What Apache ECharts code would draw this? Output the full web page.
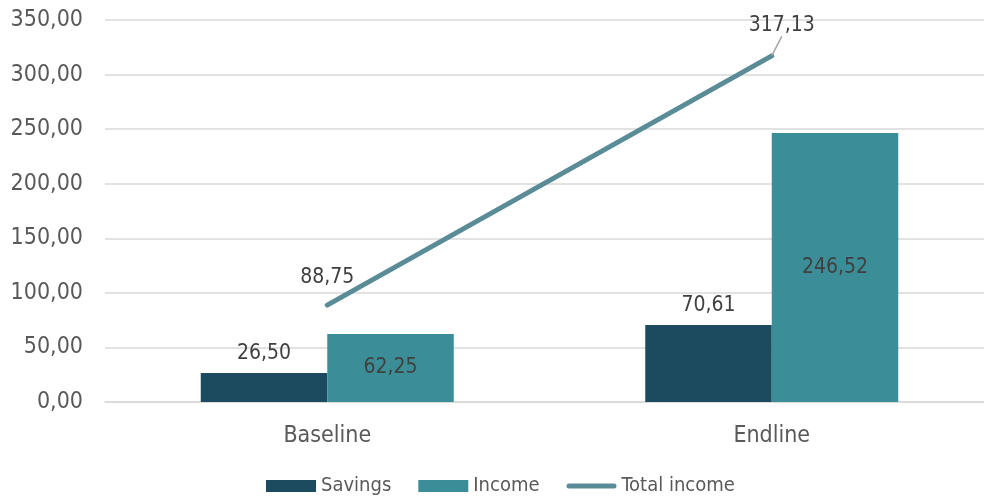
<!DOCTYPE html>
<html>
<head>
<meta charset="utf-8">
<script src="https://cdn.jsdelivr.net/npm/echarts@6/dist/echarts.min.js"></script>
<style>html,body{margin:0;padding:0;background:#fff}#c{width:984px;height:501px}</style>
</head>
<body>
<div id="c"></div>
<script>
const categories = ['Baseline', 'Endline'];
const savings = [26.50, 70.61];
const income = [62.25, 246.52];
const totalIncome = [88.75, 317.13];
const yMin = 0, yMax = 350, yStep = 50;

const FONT = '"DejaVu Sans Condensed", "DejaVu Sans", sans-serif';
const fmt = v => Number(v).toFixed(2).replace('.', ',');

const lineData = totalIncome.map((v, i) => i === totalIncome.length - 1
  ? {value: v, labelLine: {show: true}}
  : v);

const chart = echarts.init(document.getElementById('c'), null, {renderer: 'canvas'});
chart.setOption({
  animation: false,
  textStyle: {fontFamily: FONT},
  grid: {left: 105, top: 20, width: 889, height: 382, containLabel: false, outerBoundsMode: 'none'},
  legend: {
    bottom: 0,
    left: 261,
    itemWidth: 50,
    itemHeight: 12,
    itemGap: 27,
    textStyle: {fontFamily: FONT, fontSize: 20, color: '#595959'},
    data: [
      {name: 'Savings', icon: 'rect'},
      {name: 'Income', icon: 'rect'},
      {name: 'Total income', icon: 'path://M0,0 L50,0 Z M2.5,3.5 L47.5,3.5 A2.5,2.5 0 0 1 47.5,8.5 L2.5,8.5 A2.5,2.5 0 0 1 2.5,3.5 Z M0,12 L50,12 Z', itemStyle: {color: '#5a8c98'}}
    ]
  },
  xAxis: {
    type: 'category',
    data: categories,
    axisLine: {show: true, lineStyle: {color: '#d9d9d9', width: 1.5}},
    axisTick: {show: false},
    axisLabel: {fontFamily: FONT, fontSize: 23, color: '#595959', margin: 23}
  },
  yAxis: {
    type: 'value',
    min: yMin, max: yMax, interval: yStep,
    axisLine: {show: false},
    axisTick: {show: false},
    splitLine: {lineStyle: {color: '#d9d9d9', width: 1.5}},
    axisLabel: {fontFamily: FONT, fontSize: 23, color: '#595959', margin: 22, formatter: v => fmt(v)}
  },
  series: [
    {
      name: 'Savings', type: 'bar', data: savings,
      barWidth: 126.5, barGap: '0%',
      itemStyle: {color: '#1c4a5e'},
      label: {show: true, position: 'top', distance: 9, fontFamily: FONT, fontSize: 21, color: '#404040', formatter: p => fmt(p.value)}
    },
    {
      name: 'Income', type: 'bar', data: income,
      barWidth: 126.5, barGap: '0%',
      itemStyle: {color: '#3b8e97'},
      label: {show: true, position: 'inside', fontFamily: FONT, fontSize: 21, color: '#404040', formatter: p => fmt(p.value)}
    },
    {
      name: 'Total income', type: 'line', data: lineData,
      symbol: 'circle', symbolSize: 1, showSymbol: true,
      lineStyle: {color: '#5a8c98', width: 5, cap: 'round'},
      itemStyle: {color: '#5a8c98'},
      label: {show: true, position: 'top', distance: 17, fontFamily: FONT, fontSize: 21, color: '#404040', formatter: p => fmt(p.value)},
      labelLine: {show: false, lineStyle: {color: '#a6a6a6', width: 1.5}},
      labelLayout: p => (p.dataIndex === 1 ? {dx: 10, dy: -2} : {})
    }
  ]
});
</script>
</body>
</html>
